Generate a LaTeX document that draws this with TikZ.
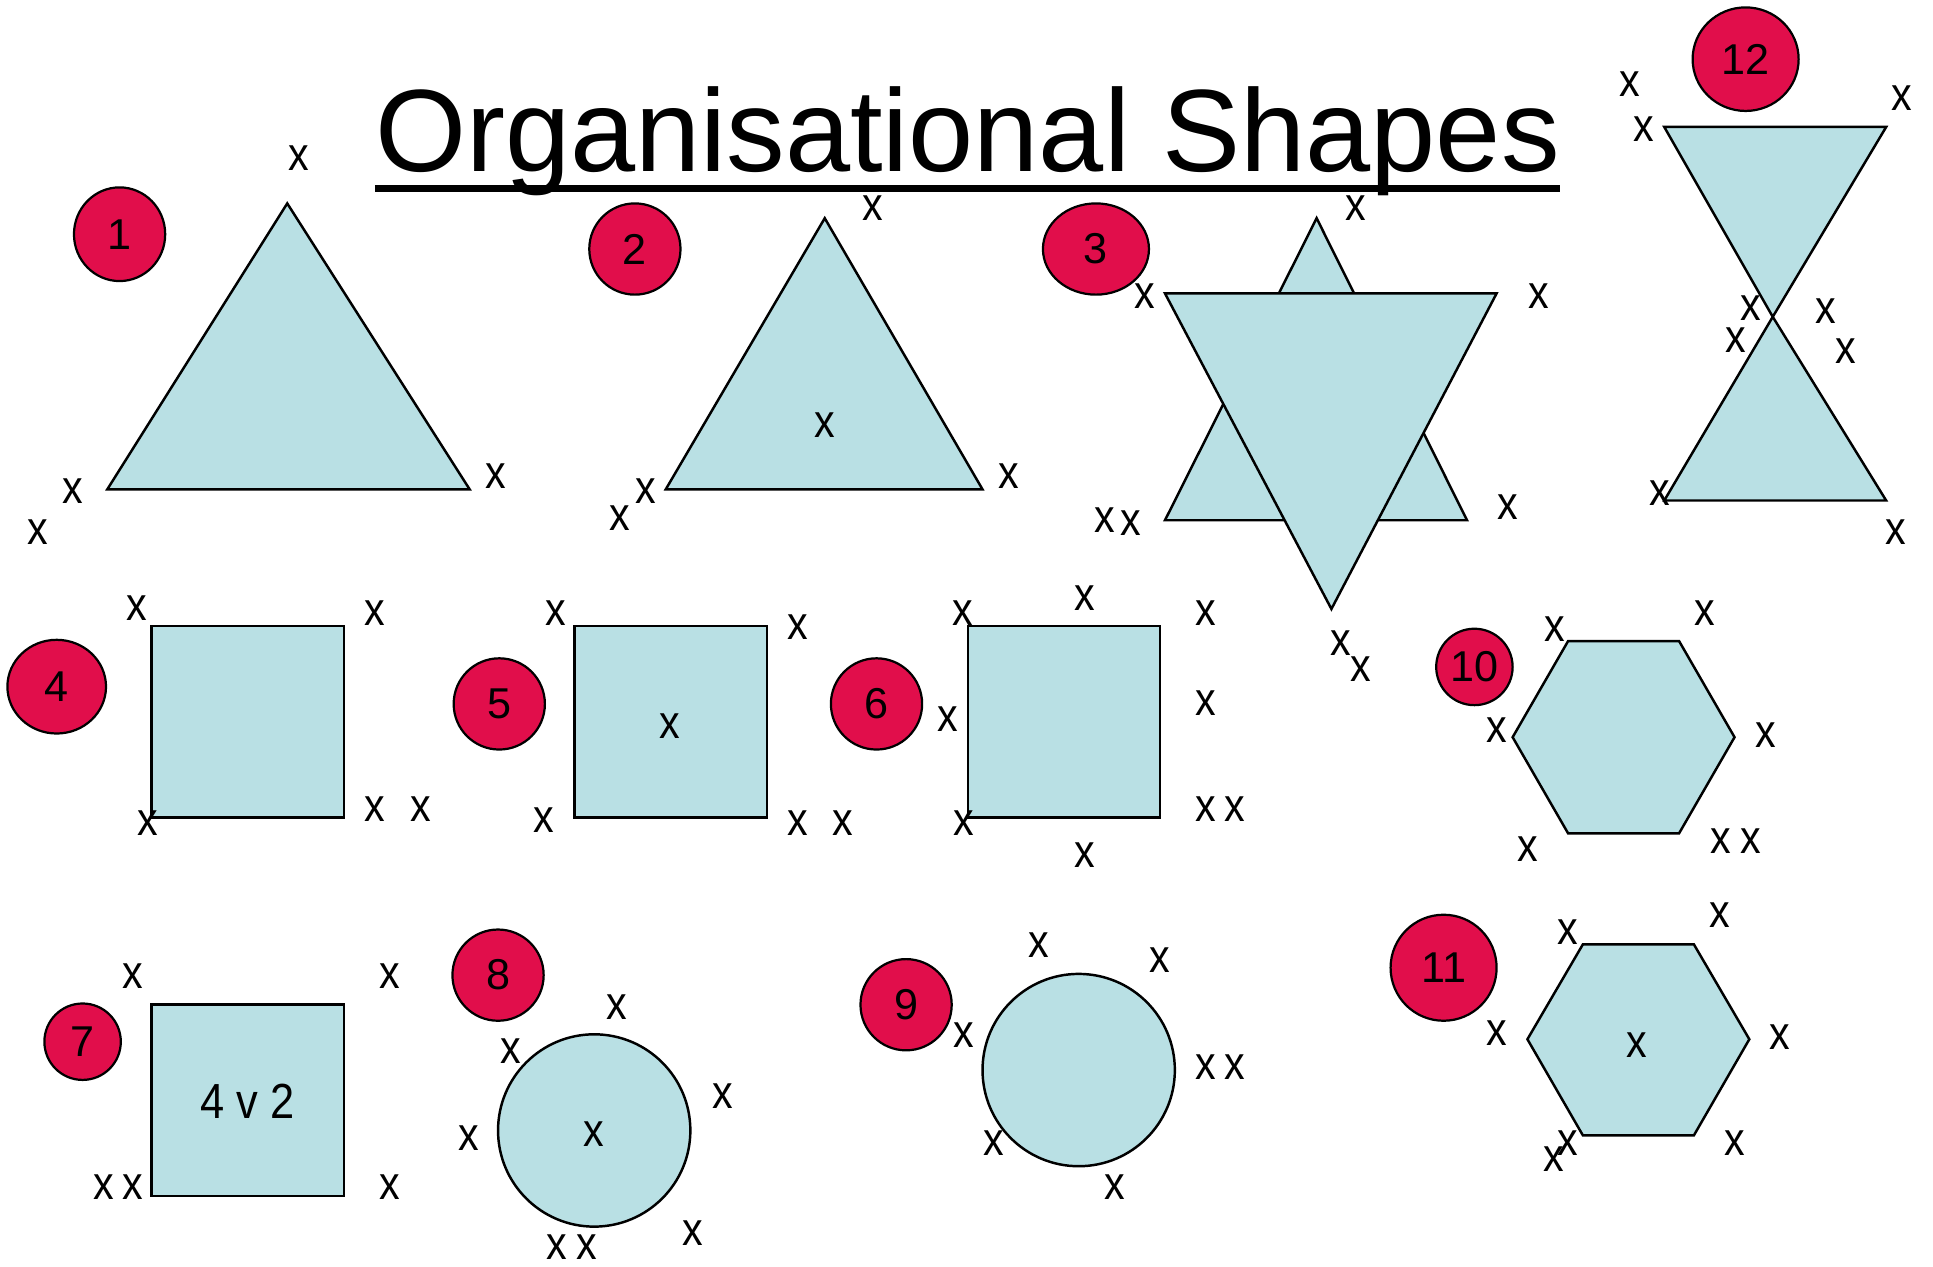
\documentclass[tikz,border=0pt]{standalone}
\usepackage{fontspec}
\setmainfont{Liberation Sans}
\newfontfamily\narrowfont[FakeStretch=0.88]{Liberation Sans}
\usetikzlibrary{shapes.geometric}
\definecolor{shapeblue}{RGB}{185,224,228}
\definecolor{badgered}{RGB}{225,14,75}
\tikzset{
  orgshape/.style ={draw=black,line width=2pt,fill=shapeblue,line join=miter},
  badge/.style    ={ellipse,draw=black,line width=1.8pt,fill=badgered,inner sep=0pt,
                    font=\fontsize{35}{35}\selectfont},
  xmark/.style    ={inner sep=0pt,font=\narrowfont\fontsize{38}{38}\selectfont},
  titletext/.style={inner sep=0pt,anchor=base west,font=\fontsize{95}{95}\selectfont}
}
\begin{document}
\begin{tikzpicture}[x=1pt,y=-1pt]
  \useasboundingbox (0,0) rectangle (1568,1027);
  \fill[white] (0,0) rectangle (1568,1027);
  \node[titletext] (title) at (304,139) {Organisational Shapes};
  \draw[line width=5.5pt] ([yshift=-14pt]title.base west) -- ([yshift=-14pt]title.base east);

  \draw[orgshape] (87,397) -- (233,165) -- (381,397) -- cycle;
  \draw[orgshape] (540,397) -- (669,177) -- (797,397) -- cycle;
  \draw[orgshape] (945,422) -- (1068,177) -- (1190,422) -- cycle;
  \draw[orgshape] (945,238) -- (1214,238) -- (1080,494) -- cycle;
  \draw[orgshape] (1350,103) -- (1530,103) -- (1438,257) -- cycle;
  \draw[orgshape] (1350,406) -- (1438,257) -- (1530,406) -- cycle;
  \draw[orgshape] (123,508) rectangle (279,663);
  \draw[orgshape] (466,508) rectangle (622,663);
  \draw[orgshape] (785,508) rectangle (941,663);
  \draw[orgshape] (1272,520) -- (1362,520) -- (1407,598) -- (1362,676) -- (1272,676) -- (1227,598) -- cycle;
  \draw[orgshape] (123,815) rectangle (279,970);
  \draw[orgshape] (482,917) circle (78);
  \draw[orgshape] (875,868) circle (78);
  \draw[orgshape] (1284,766) -- (1374,766) -- (1419,843) -- (1374,921) -- (1284,921) -- (1239,843) -- cycle;

  \node[xmark,font=\narrowfont\fontsize{40}{40}\selectfont] (sq7text) at (201,893) {4 v 2};

  \node[badge,minimum width=74pt,minimum height=76pt] (b1)  at (97,190)   {1};
  \node[badge,minimum width=74pt,minimum height=74pt] (b2)  at (515,202)  {2};
  \node[badge,minimum width=86pt,minimum height=74pt] (b3)  at (889,202)  {3};
  \node[badge,minimum width=86pt,minimum height=84pt] (b12) at (1416,48)  {12};
  \node[badge,minimum width=80pt,minimum height=76pt] (b4)  at (46,557)   {4};
  \node[badge,minimum width=74pt,minimum height=74pt] (b5)  at (405,571)  {5};
  \node[badge,minimum width=74pt,minimum height=74pt] (b6)  at (711,571)  {6};
  \node[badge,minimum width=62pt,minimum height=62pt] (b10) at (1196,541) {10};
  \node[badge,minimum width=62pt,minimum height=62pt] (b7)  at (67,845)   {7};
  \node[badge,minimum width=74pt,minimum height=74pt] (b8)  at (404,791)  {8};
  \node[badge,minimum width=74pt,minimum height=74pt] (b9)  at (735,815)  {9};
  \node[badge,minimum width=86pt,minimum height=86pt] (b11) at (1171,785) {11};

  \foreach \mx/\my [count=\i] in {242/128,59/398,31/432,402/386}
    \node[xmark] (s1-\i) at (\mx,\my) {x};
  \foreach \mx/\my [count=\i] in {708/169,669/345,524/398,503/420,818/386}
    \node[xmark] (s2-\i) at (\mx,\my) {x};
  \foreach \mx/\my [count=\i] in {1100/169,929/240,1248/240,896/422,917/424,1223/411,1088/522,1104/543}
    \node[xmark] (s3-\i) at (\mx,\my) {x};
  \foreach \mx/\my [count=\i] in {1322/68,1333/105,1543/80,1420/250,1408/276,1481/252,1497/285,1346/400,1538/432}
    \node[xmark] (s12-\i) at (\mx,\my) {x};
  \foreach \mx/\my [count=\i] in {111/493,304/497,304/656,341/656,120/668}
    \node[xmark] (s4-\i) at (\mx,\my) {x};
  \foreach \mx/\my [count=\i] in {451/497,647/509,543/589,441/665,647/668,684/668}
    \node[xmark] (s5-\i) at (\mx,\my) {x};
  \foreach \mx/\my [count=\i] in {781/497,880/485,978/497,769/583,978/570,782/668,978/656,1002/656,880/694}
    \node[xmark] (s6-\i) at (\mx,\my) {x};
  \foreach \mx/\my [count=\i] in {1261/510,1383/497,1214/592,1432/596,1239/689,1396/682,1420/682}
    \node[xmark] (s10-\i) at (\mx,\my) {x};
  \foreach \mx/\my [count=\i] in {108/792,316/792,84/963,108/963,316/963}
    \node[xmark] (s7-\i) at (\mx,\my) {x};
  \foreach \mx/\my [count=\i] in {482/920,500/817,414/853,586/889,380/923,562/1000,452/1012,476/1012}
    \node[xmark] (s8-\i) at (\mx,\my) {x};
  \foreach \mx/\my [count=\i] in {843/767,941/779,782/840,978/866,1002/866,806/927,904/963}
    \node[xmark] (s9-\i) at (\mx,\my) {x};
  \foreach \mx/\my [count=\i] in {1328/848,1272/756,1395/742,1214/838,1444/841,1272/927,1260/940,1407/927}
    \node[xmark] (s11-\i) at (\mx,\my) {x};
\end{tikzpicture}
\end{document}
